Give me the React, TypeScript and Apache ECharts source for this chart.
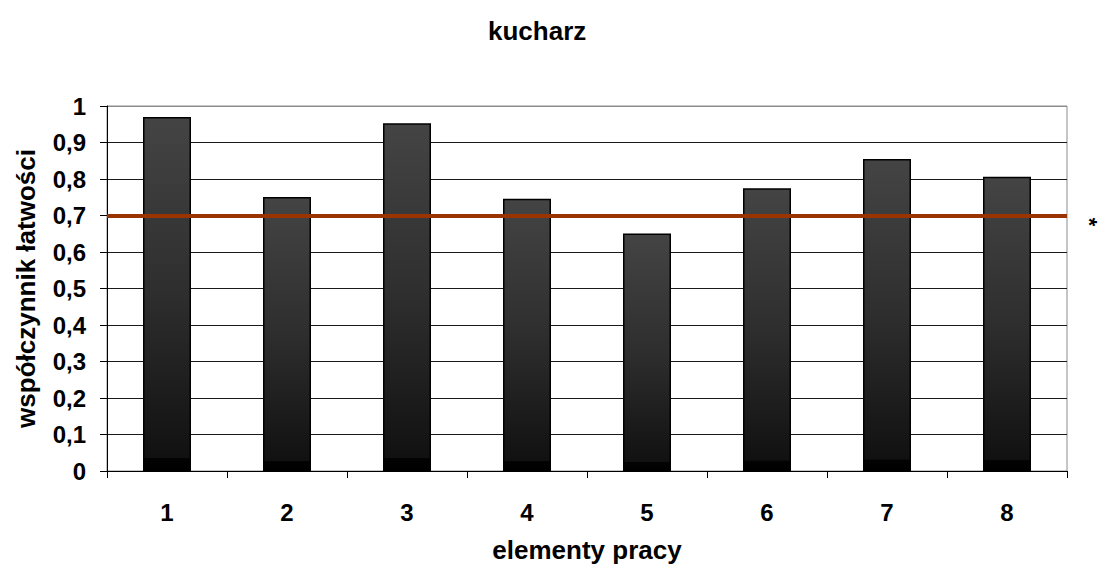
import React, { useEffect, useRef } from "react";
import * as echarts from "echarts";

const categories = ["1", "2", "3", "4", "5", "6", "7", "8"];
const values = [0.97, 0.751, 0.953, 0.746, 0.651, 0.775, 0.855, 0.806];
const thresholdValue = 0.7;
const yTicks = [0, 0.1, 0.2, 0.3, 0.4, 0.5, 0.6, 0.7, 0.8, 0.9, 1];

const FONT = "'Liberation Sans', Arial, sans-serif";

export default function App() {
  const ref = useRef<HTMLDivElement>(null);
  useEffect(() => {
    const chart = echarts.init(ref.current!, null, { renderer: "svg" });
    const gridColors = yTicks.map((t, i) => (i === yTicks.length - 1 ? "#8c8c8c" : "#1a1a1a"));
    chart.setOption({
      animation: false,
      backgroundColor: "#ffffff",
      title: {
        text: "kucharz",
        left: 483,
        top: 13,
        textStyle: { fontFamily: FONT, fontWeight: "bold", fontSize: 26, color: "#000" },
      },
      grid: {
        left: 107,
        right: 34,
        top: 106,
        bottom: 97,
        show: true,
        borderColor: "#8c8c8c",
        borderWidth: 1,
        backgroundColor: "transparent",
        containLabel: false,
        outerBoundsMode: "none",
      },
      graphic: [
        {
          type: "text",
          x: 1089,
          y: 222,
          rotation: -Math.PI / 2,
          style: {
            text: "*",
            font: "bold 22px " + FONT,
            fill: "#000",
            align: "center",
            verticalAlign: "middle",
          },
        },
      ],
      xAxis: {
        type: "category",
        data: categories,
        name: "elementy pracy",
        nameLocation: "middle",
        nameGap: 66,
        nameTextStyle: { fontFamily: FONT, fontWeight: "bold", fontSize: 26, color: "#000" },
        axisLine: { lineStyle: { color: "#000", width: 1 } },
        axisTick: { show: true, alignWithLabel: false, length: 7, lineStyle: { color: "#000" } },
        axisLabel: { fontFamily: FONT, fontWeight: "bold", fontSize: 24, color: "#000", margin: 29 },
      },
      yAxis: {
        type: "value",
        min: 0,
        max: 1,
        interval: 0.1,
        name: "współczynnik łatwości",
        nameLocation: "middle",
        nameGap: 68,
        nameTextStyle: { fontFamily: FONT, fontWeight: "bold", fontSize: 26, color: "#000" },
        axisLine: { show: true, lineStyle: { color: "#000", width: 1 } },
        axisTick: { show: true, length: 7, lineStyle: { color: "#000" } },
        axisLabel: {
          fontFamily: FONT,
          fontWeight: "bold",
          fontSize: 24,
          color: "#000",
          margin: 21,
          formatter: (v: number) => {
            const t = yTicks.find((x) => Math.abs(x - v) < 1e-9);
            return String(Math.round((t ?? v) * 10) / 10).replace(".", ",");
          },
        },
        splitLine: { show: true, lineStyle: { color: gridColors, width: 1 } },
      },
      series: [
        {
          type: "bar",
          data: values,
          barWidth: "40%",
          itemStyle: {
            borderColor: "#000",
            borderWidth: 1.5,
            color: new echarts.graphic.LinearGradient(0, 0, 0, 1, [
              { offset: 0, color: "#444444" },
              { offset: 0.5, color: "#2e2e2e" },
              { offset: 0.965, color: "#111111" },
              { offset: 0.966, color: "#030303" },
              { offset: 1, color: "#000000" },
            ]),
          },
          markLine: {
            silent: true,
            symbol: "none",
            label: { show: false },
            lineStyle: { color: "#993300", width: 4, type: "solid" },
            data: [{ yAxis: thresholdValue }],
          },
          z: 2,
        },
      ],
    });
    return () => chart.dispose();
  }, []);
  return (
    <div
      ref={ref}
      style={{ position: "fixed", left: 0, top: 0, width: 1101, height: 568, background: "#fff" }}
    />
  );
}
